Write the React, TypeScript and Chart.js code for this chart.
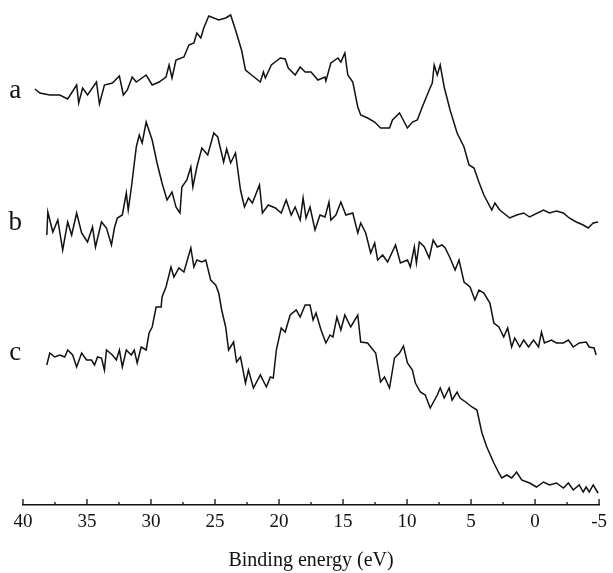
import React, { useEffect, useRef } from "react";
import { Chart, registerables } from "chart.js";

Chart.register(...registerables);

// Binding energy (eV) and intensity (arb. units) for each spectrum
const energyA = [39.07, 38.68, 37.91, 37.13, 36.51, 35.81, 35.65, 35.34, 34.96, 34.26, 34.03, 33.64, 33.02, 32.47, 32.16, 31.85, 31.47, 31.15, 30.38, 29.91, 29.37, 28.83, 28.59, 28.36, 28.05, 27.43, 27.04, 26.65, 26.42, 26.11, 25.88, 25.49, 24.71, 24.17, 23.78, 23.4, 22.93, 22.62, 22.15, 21.46, 21.22, 21.07, 20.6, 19.9, 19.52, 19.28, 18.74, 18.35, 17.96, 17.5, 16.96, 16.41, 16.34, 15.95, 15.4, 15.17, 14.86, 14.63, 14.24, 13.85, 13.62, 13.08, 12.53, 12.07, 11.37, 11.14, 10.59, 9.97, 9.58, 9.2, 8.81, 8.27, 8.03, 7.88, 7.64, 7.41, 7.1, 6.64, 6.09, 5.55, 5.16, 4.77, 4.39, 4.0, 3.38, 3.14, 2.76, 1.98, 1.44, 0.89, 0.43, -0.66, -1.12, -1.67, -2.21, -2.67, -3.22, -3.76, -4.15, -4.54, -4.92];
const intensityA = [414, 410, 408, 408, 404, 418, 400, 415, 408, 421, 399, 418, 420, 427, 408, 413, 426, 421, 428, 418, 421, 426, 438, 425, 443, 446, 458, 460, 470, 465, 475, 487, 483, 485, 488, 473, 453, 433, 428, 421, 431, 425, 438, 445, 444, 435, 428, 436, 431, 431, 423, 426, 422, 440, 445, 441, 450, 428, 421, 396, 388, 385, 381, 375, 375, 383, 390, 375, 381, 383, 396, 413, 420, 438, 428, 438, 416, 393, 370, 356, 338, 335, 321, 308, 293, 300, 293, 285, 288, 290, 286, 293, 290, 292, 290, 285, 281, 278, 275, 280, 281];

const energyB = [38.14, 38.06, 37.67, 37.28, 36.9, 36.51, 36.2, 35.81, 35.42, 34.96, 34.57, 34.34, 33.87, 33.48, 33.09, 32.86, 32.63, 32.24, 31.93, 31.78, 31.54, 31.15, 30.92, 30.69, 30.38, 29.91, 29.53, 29.14, 28.75, 28.36, 28.05, 27.74, 27.59, 27.2, 26.89, 26.73, 26.42, 26.03, 25.57, 25.1, 24.79, 24.33, 24.09, 23.78, 23.4, 23.01, 22.7, 22.39, 22.08, 21.53, 21.3, 20.84, 20.29, 19.83, 19.44, 19.05, 18.74, 18.35, 18.12, 17.89, 17.58, 17.19, 16.8, 16.41, 16.1, 15.95, 15.56, 15.17, 14.78, 14.24, 13.85, 13.62, 13.23, 12.84, 12.53, 12.3, 11.91, 11.52, 10.9, 10.52, 9.97, 9.74, 9.43, 9.27, 9.04, 8.65, 8.27, 7.96, 7.64, 7.26, 7.02, 6.64, 6.25, 5.94, 5.55, 5.08, 4.7, 4.39, 4.0, 3.53, 3.22, 2.83, 2.45, 2.14, 1.83, 1.59, 1.2, 0.89, 0.51, 0.12, -0.27, -0.5, -0.73, -1.28, -1.67, -2.21, -2.6, -2.98, -3.45, -3.99, -4.23, -4.61, -4.77];
const intensityB = [268, 291, 271, 283, 253, 281, 268, 290, 270, 261, 276, 256, 281, 275, 258, 275, 285, 288, 310, 293, 315, 356, 368, 360, 381, 363, 340, 320, 303, 311, 296, 290, 316, 323, 336, 316, 336, 355, 348, 370, 366, 341, 354, 340, 350, 313, 296, 305, 300, 318, 290, 298, 295, 290, 303, 288, 296, 283, 305, 285, 296, 273, 288, 286, 301, 283, 288, 301, 288, 290, 270, 280, 270, 250, 260, 243, 248, 241, 258, 240, 243, 236, 256, 240, 261, 256, 245, 263, 256, 258, 255, 245, 233, 243, 221, 216, 203, 213, 210, 200, 180, 176, 166, 175, 156, 165, 156, 163, 156, 163, 156, 171, 160, 163, 160, 160, 163, 156, 160, 161, 156, 155, 148];

const energyC = [38.14, 37.91, 37.52, 37.13, 36.74, 36.51, 36.12, 35.81, 35.42, 35.03, 34.65, 34.41, 34.18, 33.87, 33.64, 33.48, 33.02, 32.71, 32.47, 32.24, 31.93, 31.54, 31.31, 31.08, 30.77, 30.38, 30.15, 29.91, 29.6, 29.21, 29.14, 28.83, 28.44, 28.21, 27.82, 27.43, 26.89, 26.65, 26.42, 26.03, 25.72, 25.34, 24.95, 24.71, 24.48, 24.17, 23.94, 23.55, 23.32, 23.01, 22.62, 22.39, 22.0, 21.46, 20.99, 20.68, 20.45, 20.21, 19.83, 19.52, 19.13, 18.66, 18.35, 17.96, 17.58, 17.34, 17.11, 16.72, 16.34, 16.02, 15.79, 15.48, 15.17, 14.86, 14.4, 13.85, 13.62, 13.08, 12.84, 12.45, 12.07, 11.76, 11.37, 10.98, 10.59, 10.28, 9.97, 9.58, 9.35, 8.96, 8.58, 8.19, 7.64, 7.41, 7.1, 6.71, 6.48, 6.09, 5.86, 5.32, 4.93, 4.54, 4.15, 3.77, 3.22, 2.83, 2.6, 2.21, 1.83, 1.44, 1.05, 0.43, -0.11, -0.66, -1.12, -1.67, -2.21, -2.6, -2.98, -3.45, -3.76, -3.99, -4.23, -4.54, -4.92];
const intensityC = [138, 150, 146, 148, 146, 153, 148, 136, 150, 143, 143, 138, 146, 145, 133, 153, 148, 143, 153, 136, 153, 148, 153, 140, 156, 153, 170, 176, 196, 196, 206, 216, 236, 226, 235, 231, 255, 236, 243, 241, 243, 223, 218, 210, 193, 176, 153, 161, 141, 146, 120, 133, 115, 128, 116, 126, 125, 153, 175, 171, 188, 193, 186, 198, 198, 183, 190, 173, 160, 168, 166, 186, 173, 188, 176, 188, 161, 160, 156, 150, 121, 126, 115, 145, 150, 157, 140, 133, 120, 111, 108, 95, 108, 115, 105, 115, 103, 111, 105, 100, 96, 93, 70, 56, 40, 30, 25, 28, 25, 31, 23, 20, 16, 21, 18, 20, 15, 20, 13, 18, 11, 16, 11, 18, 10];

const seriesNames = ["a", "b", "c"];
const labelBaselines = [405, 273, 143];
const labelEnergy = 40.6;

const xMin = -5;
const xMax = 40;
const xStep = 5;
const axisTitle = "Binding energy (eV)";

const INK = "#111111";
const SERIF = "'Liberation Serif', 'Times New Roman', serif";

function toPoints(xs: number[], ys: number[]) {
  return xs.map((x, i) => ({ x, y: ys[i] }));
}

const tickMarks = {
  id: "tickMarks",
  afterDraw(chart: any) {
    const s = chart.scales.x;
    const ctx = chart.ctx;
    const y0 = chart.chartArea.bottom;
    ctx.save();
    ctx.strokeStyle = INK;
    ctx.lineWidth = 1.3;
    for (let v = s.min; v <= s.max + 1e-9; v += xStep / 2) {
      const major = Math.abs(v / xStep - Math.round(v / xStep)) < 1e-6;
      const px = s.getPixelForValue(v);
      ctx.beginPath();
      ctx.moveTo(px, y0);
      ctx.lineTo(px, y0 - (major ? 6 : 3));
      ctx.stroke();
    }
    ctx.restore();
  },
};

const seriesLabels = {
  id: "seriesLabels",
  afterDraw(chart: any) {
    const ctx = chart.ctx;
    const sx = chart.scales.x;
    const sy = chart.scales.y;
    ctx.save();
    ctx.fillStyle = INK;
    ctx.font = `27px ${SERIF}`;
    ctx.textAlign = "center";
    ctx.textBaseline = "alphabetic";
    seriesNames.forEach((n, i) => {
      ctx.fillText(n, sx.getPixelForValue(labelEnergy), sy.getPixelForValue(labelBaselines[i]));
    });
    ctx.restore();
  },
};

export default function App() {
  const ref = useRef<HTMLCanvasElement | null>(null);
  useEffect(() => {
    if (!ref.current) return;
    const ds = (xs: number[], ys: number[]) => ({
      data: toPoints(xs, ys),
      borderColor: INK,
      borderWidth: 1.5,
      pointRadius: 0,
      tension: 0,
      fill: false,
    });
    const chart = new Chart(ref.current, {
      type: "line",
      data: {
        datasets: [ds(energyA, intensityA), ds(energyB, intensityB), ds(energyC, intensityC)],
      },
      options: {
        animation: false,
        responsive: true,
        maintainAspectRatio: false,
        layout: { padding: { left: 23, right: 10, top: 8, bottom: 0 } },
        plugins: { legend: { display: false }, tooltip: { enabled: false } },
        scales: {
          x: {
            type: "linear",
            reverse: true,
            min: xMin,
            max: xMax,
            grid: { display: false, drawTicks: false },
            border: { display: true, color: INK, width: 1.5 },
            ticks: {
              stepSize: xStep,
              color: INK,
              padding: 6,
              maxRotation: 0,
              font: { family: SERIF, size: 19 },
            },
            title: {
              display: true,
              text: axisTitle,
              color: INK,
              font: { family: SERIF, size: 20 },
              padding: { top: 0, bottom: 0 },
            },
            afterFit: (scale: any) => {
              scale.height = 68;
            },
          },
          y: {
            type: "linear",
            display: false,
            min: -2,
            max: 495,
          },
        },
      },
      plugins: [tickMarks, seriesLabels],
    });
    return () => chart.destroy();
  }, []);
  return (
    <div style={{ position: "absolute", left: 0, top: 0, width: 613, height: 573 }}>
      <canvas ref={ref} />
    </div>
  );
}
